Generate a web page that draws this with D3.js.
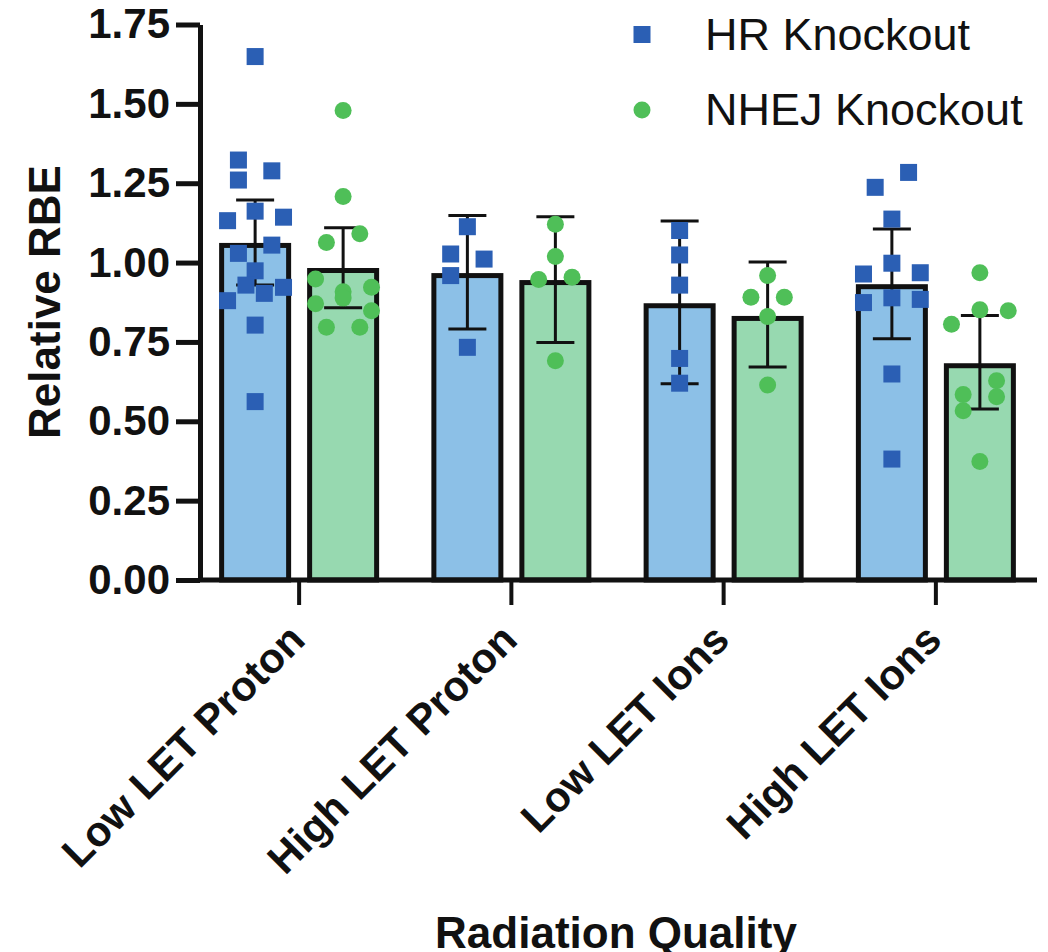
<!DOCTYPE html>
<html>
<head>
<meta charset="utf-8">
<script src="https://cdn.jsdelivr.net/npm/d3@7"></script>
<style>
  body { margin: 0; background: #fff; }
  svg { display: block; font-family: "Liberation Sans", Arial, sans-serif; }
</style>
</head>
<body>
<div id="chart"></div>
<script>
// categories and groups
var categories = ["Low LET Proton", "High LET Proton", "Low LET Ions", "High LET Ions"];
var groups = ["HR Knockout", "NHEJ Knockout"];

// bar heights (mean relative RBE)
var hrMean   = [1.054, 0.959, 0.864, 0.924];
var nhejMean = [0.975, 0.937, 0.824, 0.675];

// error bar ends
var hrLow    = [0.929, 0.791, 0.618, 0.760];
var hrHigh   = [1.197, 1.148, 1.131, 1.106];
var nhejLow  = [0.858, 0.748, 0.671, 0.539];
var nhejHigh = [1.110, 1.144, 1.002, 0.833];

// individual points per category
var hrPoints = [
  [1.649, 1.323, 1.260, 1.289, 1.162, 1.132, 1.143, 1.055, 1.029, 0.974, 0.929, 0.903, 0.922, 0.880, 0.803, 0.562],
  [1.113, 1.027, 1.011, 0.959, 0.733],
  [1.101, 1.024, 0.929, 0.698, 0.620],
  [1.284, 1.237, 1.137, 0.998, 0.964, 0.968, 0.874, 0.889, 0.884, 0.649, 0.381]
];
var nhejPoints = [
  [1.479, 1.208, 1.063, 1.091, 0.948, 0.908, 0.888, 0.922, 0.870, 0.848, 0.796, 0.796],
  [1.121, 1.019, 0.947, 0.954, 0.691],
  [0.959, 0.891, 0.891, 0.830, 0.614],
  [0.968, 0.851, 0.806, 0.848, 0.628, 0.584, 0.577, 0.533, 0.373]
];
// scatter column (in marker widths) of each point
var hrJitter = [
  [0, -1, -1, 1, 0, -1.65, 1.7, 1, -1, 0, -0.55, 0.55, 1.7, -1.65, 0, 0],
  [0, -1, 1, -1, 0],
  [0, 0, 0, 0, 0],
  [1, -1, 0, 0, -1.7, 1.7, -1.7, 0, 1.7, 0, 0]
];
var nhejJitter = [
  [0, 0, -1, 1, -1.65, 0, 0, 1.7, -1.65, 1.7, -1, 1],
  [0, 0, -1, 1, 0],
  [0, -1, 1, 0, 0],
  [0, 0, -1.7, 1.7, 1, -1, 1, -1, 0]
];

var yTicks = [0, 0.25, 0.5, 0.75, 1.0, 1.25, 1.5, 1.75];

var barFill = ["#8cc0e7", "#97d9b0"];
var dotFill = ["#2b5fb4", "#4fbf58"];

var width = 1048, height = 952;
var svg = d3.select("#chart").append("svg")
  .attr("width", width)
  .attr("height", height);

var y = d3.scaleLinear().domain([0, 1.75]).range([580, 24.5]);
var x = d3.scaleBand().domain(categories).range([193, 1042]);
var xSub = d3.scaleBand().domain(groups).range([-88, 88]);
var jit = d3.scaleLinear().domain([-1, 1]).range([-16.7, 16.7]);

var barW = 67;
var mk = 17;

var rows = categories.map(function (c, i) {
  return [
    {cat: c, g: 0, mean: hrMean[i], lo: hrLow[i], hi: hrHigh[i], pts: hrPoints[i], jit: hrJitter[i]},
    {cat: c, g: 1, mean: nhejMean[i], lo: nhejLow[i], hi: nhejHigh[i], pts: nhejPoints[i], jit: nhejJitter[i]}
  ];
});
var bars = d3.merge(rows);
function cx(d) { return x(d.cat) + x.bandwidth() / 2 + xSub(groups[d.g]) + xSub.bandwidth() / 2; }

// bars
svg.append("g").selectAll("rect")
  .data(bars)
  .enter().append("rect")
    .attr("x", function (d) { return cx(d) - barW / 2; })
    .attr("y", function (d) { return y(d.mean); })
    .attr("width", barW)
    .attr("height", function (d) { return y(0) - y(d.mean); })
    .style("fill", function (d) { return barFill[d.g]; })
    .style("stroke", "#111")
    .style("stroke-width", 5);

// error bars
var err = svg.append("g").selectAll("g")
  .data(bars)
  .enter().append("g")
    .style("stroke", "#111")
    .style("stroke-width", 3);
err.append("line")
  .attr("x1", cx).attr("x2", cx)
  .attr("y1", function (d) { return y(d.lo); })
  .attr("y2", function (d) { return y(d.hi); });
err.append("line")
  .attr("x1", function (d) { return cx(d) - 19; })
  .attr("x2", function (d) { return cx(d) + 19; })
  .attr("y1", function (d) { return y(d.hi); })
  .attr("y2", function (d) { return y(d.hi); });
err.append("line")
  .attr("x1", function (d) { return cx(d) - 19; })
  .attr("x2", function (d) { return cx(d) + 19; })
  .attr("y1", function (d) { return y(d.lo); })
  .attr("y2", function (d) { return y(d.lo); });

// points
var pts = [];
bars.forEach(function (d) {
  d.pts.forEach(function (v, k) {
    pts.push({g: d.g, x: cx(d) + jit(d.jit[k]), v: v});
  });
});
svg.append("g").selectAll("rect")
  .data(pts.filter(function (p) { return p.g === 0; }))
  .enter().append("rect")
    .attr("x", function (p) { return p.x - mk / 2; })
    .attr("y", function (p) { return y(p.v) - mk / 2; })
    .attr("width", mk)
    .attr("height", mk)
    .style("fill", dotFill[0]);
svg.append("g").selectAll("circle")
  .data(pts.filter(function (p) { return p.g === 1; }))
  .enter().append("circle")
    .attr("cx", function (p) { return p.x; })
    .attr("cy", function (p) { return y(p.v); })
    .attr("r", mk / 2)
    .style("fill", dotFill[1]);

// y axis
var yAxis = svg.append("g")
  .attr("transform", "translate(200,0)")
  .call(d3.axisLeft(y).tickValues(yTicks).tickFormat(d3.format(".2f")).tickSize(24).tickSizeOuter(0).tickPadding(6));
yAxis.select(".domain").style("stroke", "#111").style("stroke-width", 5);
yAxis.selectAll(".tick line").style("stroke", "#111").style("stroke-width", 5);
yAxis.selectAll(".tick text")
  .style("font-size", "42px").style("font-weight", "bold").style("fill", "#111")
  .style("font-family", "'Liberation Sans', Arial, sans-serif");

// x axis
var xAxis = svg.append("g")
  .attr("transform", "translate(0,580)")
  .call(d3.axisBottom(x).tickSize(25).tickSizeOuter(0));
xAxis.select(".domain").remove();
xAxis.insert("line", ":first-child")
  .attr("x1", 198).attr("x2", 1037)
  .style("stroke", "#111").style("stroke-width", 5);
xAxis.selectAll(".tick line").style("stroke", "#111").style("stroke-width", 4);
xAxis.selectAll(".tick text")
  .attr("y", 0).attr("dy", 0)
  .attr("transform", "translate(8,62) rotate(-45)")
  .style("text-anchor", "end")
  .style("font-size", "42px").style("font-weight", "bold").style("fill", "#111")
  .style("font-family", "'Liberation Sans', Arial, sans-serif");

// axis titles
svg.append("text")
  .attr("transform", "translate(60,302) rotate(-90)")
  .style("text-anchor", "middle")
  .style("font-size", "44px").style("font-weight", "bold").style("fill", "#111")
  .text("Relative RBE");

svg.append("text")
  .attr("x", 616).attr("y", 948)
  .style("text-anchor", "middle")
  .style("font-size", "44px").style("font-weight", "bold").style("fill", "#111")
  .text("Radiation Quality");

// legend
var leg = svg.append("g").attr("transform", "translate(642,0)");
leg.append("rect")
  .attr("x", -mk / 2).attr("y", 34.5 - mk / 2)
  .attr("width", mk).attr("height", mk)
  .style("fill", dotFill[0]);
leg.append("circle")
  .attr("cx", 0).attr("cy", 110).attr("r", mk / 2)
  .style("fill", dotFill[1]);
leg.selectAll("text")
  .data(groups)
  .enter().append("text")
    .attr("x", 63)
    .attr("y", function (d, i) { return 50 + i * 75; })
    .style("font-size", "45px").style("fill", "#111")
    .text(function (d) { return d; });
</script>
</body>
</html>
